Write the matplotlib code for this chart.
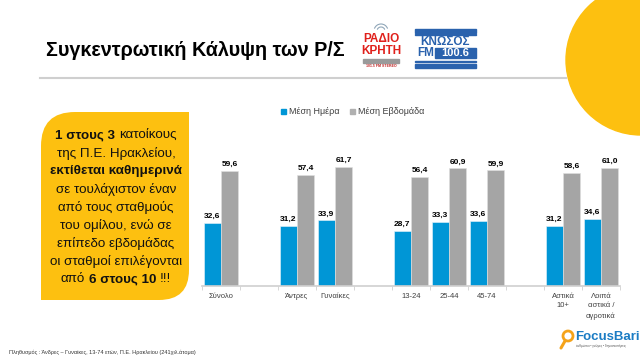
"""Συγκεντρωτική Κάλυψη των Ρ/Σ - grouped bar chart slide."""

import numpy as np
import matplotlib
matplotlib.use('Agg')
import matplotlib.pyplot as plt
from matplotlib.patches import Circle, Rectangle, PathPatch, Arc
from matplotlib.path import Path

# --- data -----------------------------------------------------------------
categories = ['Σύνολο', '', 'Άντρες', 'Γυναίκες', '', '13-24', '25-44', '45-74',
              '', 'Αστικά\n10+', 'Λοιπά\nαστικά /\nαγροτικά']
day_values = [32.6, None, 31.2, 33.9, None, 28.7, 33.3, 33.6, None, 31.2, 34.6]
week_values = [59.6, None, 57.4, 61.7, None, 56.4, 60.9, 59.9, None, 58.6, 61.0]
series_names = ['Μέση Ημέρα', 'Μέση Εβδομάδα']

title = 'Συγκεντρωτική Κάλυψη των Ρ/Σ'
footer = 'Πληθυσμός : Άνδρες – Γυναίκες, 13-74 ετών, Π.Ε. Ηρακλείου (241χιλ.άτομα)'
# (text, bold) runs per line of the yellow note
note_lines = [
    [('1 στους 3', True), ('κατοίκους', False)],
    [('της Π.Ε. Ηρακλείου,', False)],
    [('εκτίθεται καθημερινά', True)],
    [('σε τουλάχιστον έναν', False)],
    [('από τους σταθμούς', False)],
    [('του ομίλου, ενώ σε', False)],
    [('επίπεδο εβδομάδας', False)],
    [('οι σταθμοί επιλέγονται', False)],
    [('από', False), ('6 στους 10', True), ('!!!', False)],
]

BLUE = '#0096d6'
GREY = '#a5a5a5'
YELLOW = '#fdc010'

plt.rcParams['font.family'] = ['Liberation Sans', 'DejaVu Sans']

fig = plt.figure(figsize=(6.4, 3.6), dpi=100)

# background canvas in pixel coordinates (y down)
bg = fig.add_axes([0, 0, 1, 1], zorder=0)
bg.set_xlim(0, 640)
bg.set_ylim(360, 0)
bg.axis('off')

bg.add_patch(Circle((641, 60), 75, color=YELLOW, zorder=1))
bg.plot([40, 566], [78, 78], color='#cfcfcf', lw=1.5, zorder=0.5)

bg.text(46, 50, title, fontsize=14.2, fontweight='bold', va='center', ha='left')

# Radio Kriti logo
for r in (4, 7):
    bg.add_patch(Arc((381, 31), 2 * r, 2 * r, theta1=200, theta2=340, color='#8fa6b8', lw=0.8))
bg.text(381, 38.5, 'ΡΑΔΙΟ', color='#e0201b', fontsize=8.5, fontweight='bold',
        ha='center', va='center')
bg.text(381, 50.5, 'ΚΡΗΤΗ', color='#e0201b', fontsize=8.5, fontweight='bold',
        ha='center', va='center')
bg.add_patch(Rectangle((363, 59), 36, 4, color='#9a9a9a'))
bg.text(381, 66, '101.5 FM STEREO', color='#c02020', fontsize=2.5, fontweight='bold',
        ha='center', va='center')

# Knossos FM logo
for yy, hh in [(29, 3.5), (34, 1.2), (61, 1.2), (64, 3.5)]:
    bg.add_patch(Rectangle((415, yy), 61, hh, color='#2a62ad'))
bg.text(445, 42, 'ΚΝΩΣΟΣ', color='#2a62ad', fontsize=8.5, fontweight='bold',
        ha='center', va='center')
bg.text(417, 53, 'FM', color='#2a62ad', fontsize=8.5, fontweight='bold',
        ha='left', va='center')
bg.add_patch(Rectangle((435, 48), 41, 10, color='#2a62ad'))
bg.text(455, 53, '100.6', color='white', fontsize=8, fontweight='bold',
        ha='center', va='center')

# yellow note with rounded top-left / bottom-right corners
x0, x1, y0, y1, r1, r2 = 41, 189, 112, 300, 34, 30
verts = [(x0, y1), (x0, y0 + r1), (x0, y0), (x0 + r1, y0), (x1, y0),
         (x1, y1 - r2), (x1, y1), (x1 - r2, y1), (x0, y1)]
codes = [Path.MOVETO, Path.LINETO, Path.CURVE3, Path.CURVE3, Path.LINETO,
         Path.LINETO, Path.CURVE3, Path.CURVE3, Path.CLOSEPOLY]
bg.add_patch(PathPatch(Path(verts, codes), facecolor=YELLOW, edgecolor='none', zorder=1))

renderer = fig.canvas.get_renderer()


def text_width(s, **kw):
    t = bg.text(0, 0, s, **kw)
    w = t.get_window_extent(renderer).width
    t.remove()
    return w


note_size = 9.6
space_w = text_width('x x', fontsize=note_size) - text_width('xx', fontsize=note_size)
for i, runs in enumerate(note_lines):
    y = 135 + i * 18
    texts, widths = [], []
    for s, bold in runs:
        t = bg.text(0, y, s, fontsize=note_size, fontweight='bold' if bold else 'normal',
                    ha='left', va='center', color='#111111', zorder=2)
        texts.append(t)
        widths.append(t.get_window_extent(renderer).width)
    total = sum(widths) + space_w * (len(runs) - 1)
    x = 116 - total / 2
    for t, w in zip(texts, widths):
        t.set_x(x)
        x += w + space_w

# footer + FocusBari logo
bg.text(9, 352, footer, fontsize=4, color='#333333', ha='left', va='center')
bg.add_patch(Circle((568, 336), 5, fill=False, edgecolor='#f5a31a', lw=2))
bg.plot([565, 561], [341, 348], color='#f5a31a', lw=2.2, solid_capstyle='round')
bg.text(575, 337, 'FocusBari', color='#1b7cc4', fontsize=9.5, fontweight='bold',
        ha='left', va='center')
bg.text(576, 346, 'άνθρωποι • γνώμες • δημοσκοπήσεις', color='#555555', fontsize=2.2,
        ha='left', va='center')

# legend
bg.add_patch(Rectangle((281, 108.5), 5, 5, color=BLUE))
bg.text(289, 111, series_names[0], fontsize=6.5, color='#404040', va='center')
bg.add_patch(Rectangle((350, 108.5), 5, 5, color='#b0b0b0'))
bg.text(358, 111, series_names[1], fontsize=6.5, color='#404040', va='center')

# --- chart ------------------------------------------------------------------
ax = fig.add_axes([202 / 640, 1 - 286 / 360, 418 / 640, 146 / 360], zorder=2)
ax.patch.set_alpha(0)

x = np.arange(len(categories))
day = np.array([np.nan if v is None else v for v in day_values])
week = np.array([np.nan if v is None else v for v in week_values])
w = 0.46

ax.bar(x - w / 2, day, w, color=BLUE, edgecolor='#e8f4fb', linewidth=0.4)
ax.bar(x + w / 2, week, w, color=GREY, edgecolor='#e0e0e0', linewidth=0.4)

for xs, vals in ((x - w / 2, day), (x + w / 2, week)):
    for xi, v in zip(xs, vals):
        if not np.isnan(v):
            ax.annotate(f'{v:.1f}'.replace('.', ','), (xi, v), xytext=(0, 2),
                        textcoords='offset points', ha='center', va='bottom',
                        fontsize=6, fontweight='bold')

ax.set_xlim(-0.5, len(categories) - 0.5)
ax.set_ylim(0, 75.5)
ax.set_yticks([])
for side in ['left', 'right', 'top']:
    ax.spines[side].set_visible(False)
ax.spines['bottom'].set_color('#d0d0d0')
ax.spines['bottom'].set_linewidth(1.2)

ax.set_xticks(x)
ax.set_xticklabels(categories, fontsize=5.5, color='#404040', linespacing=1.5)
ax.tick_params(axis='x', length=0, pad=5)
ax.set_xticks(np.arange(-0.5, len(categories)), minor=True)
ax.tick_params(axis='x', which='minor', length=3, color='#d0d0d0')

fig.savefig('out.png', dpi=100)
